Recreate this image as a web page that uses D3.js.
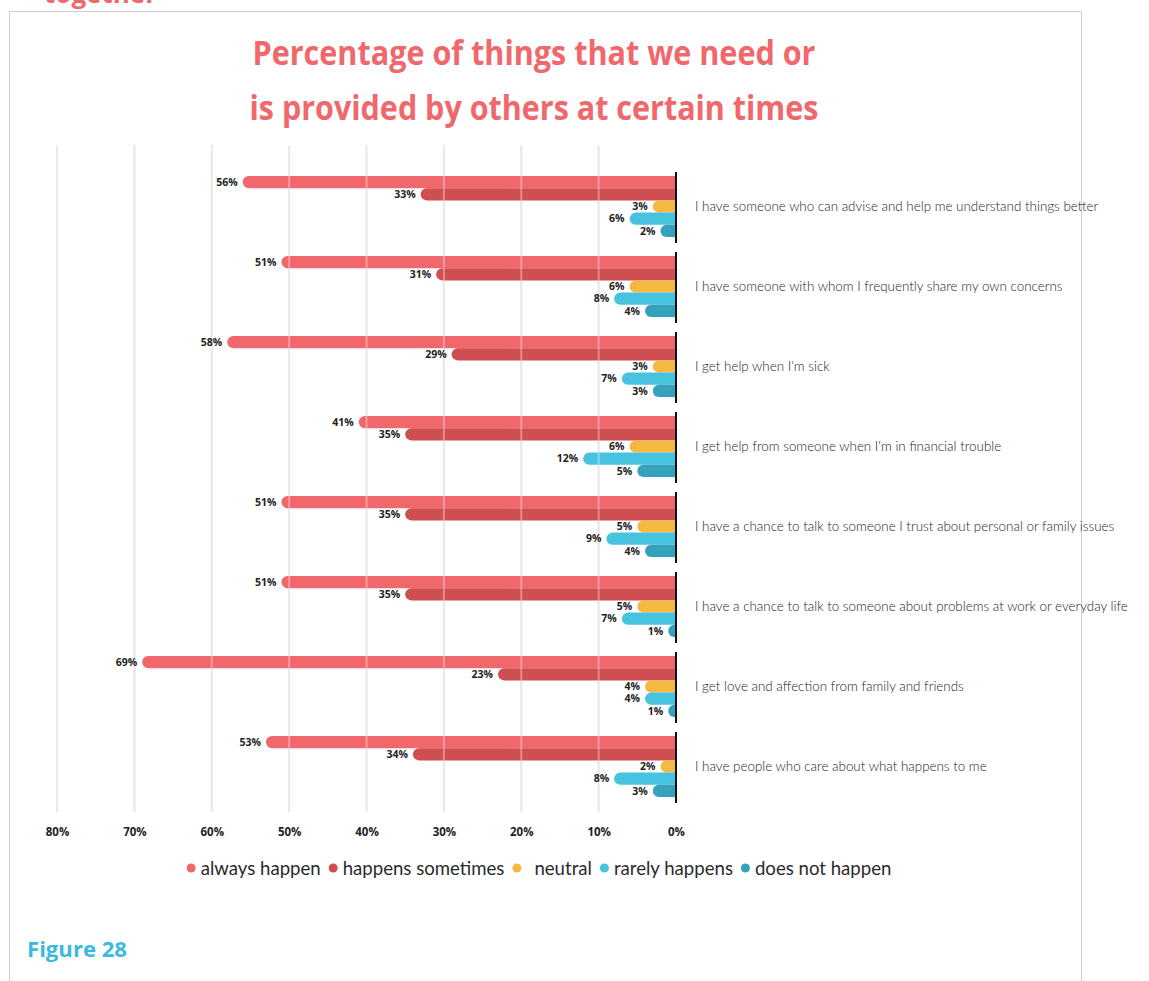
<!DOCTYPE html>
<html>
<head>
<meta charset="utf-8">
<script src="https://cdn.jsdelivr.net/npm/d3@7"></script>
<style>
  html, body { margin: 0; padding: 0; background: #fff; }
  svg { display: block; }
</style>
</head>
<body>
<svg id="chart" width="1149" height="981"></svg>
<script>
// Statements (one group of bars each)
const categories = [
  "I have someone who can advise and help me understand things better",
  "I have someone with whom I frequently share my own concerns",
  "I get help when I'm sick",
  "I get help from someone when I'm in financial trouble",
  "I have a chance to talk to someone I trust about personal or family issues",
  "I have a chance to talk to someone about problems at work or everyday life",
  "I get love and affection from family and friends",
  "I have people who care about what happens to me"
];

// Answer options, in drawing order within each group
const seriesNames = ["always happen", "happens sometimes", "neutral", "rarely happens", "does not happen"];
const seriesColors = ["#f0686b", "#cf4e51", "#f5b842", "#47c2df", "#34a2bd"];

// Percent of respondents per statement, one array per answer option
const alwaysHappen      = [56, 51, 58, 41, 51, 51, 69, 53];
const happensSometimes  = [33, 31, 29, 35, 35, 35, 23, 34];
const neutral           = [3, 6, 3, 6, 5, 5, 4, 2];
const rarelyHappens     = [6, 8, 7, 12, 9, 7, 4, 8];
const doesNotHappen     = [2, 4, 3, 5, 4, 1, 1, 3];
const seriesValues = [alwaysHappen, happensSometimes, neutral, rarelyHappens, doesNotHappen];

// Axis ticks (percent)
const tickValues = [80, 70, 60, 50, 40, 30, 20, 10, 0];

const svg = d3.select("#chart");
const salmon = "#f0686b";

// Outer frame of the page panel
svg.append("path")
  .attr("d", "M9.5,981 V11.5 H1081.5 V981")
  .attr("fill", "none")
  .attr("stroke", "#cfcfcf")
  .attr("stroke-width", 1);

// Heading from the previous section, running off the top edge
svg.append("text")
  .attr("x", 44).attr("y", 3)
  .attr("fill", salmon)
  .attr("font-family", "'Open Sans', sans-serif")
  .attr("font-weight", 700)
  .attr("font-size", 26)
  .text("together");

// Title
const title = svg.append("text")
  .attr("text-anchor", "middle")
  .attr("fill", "#f0686b")
  .attr("font-family", "'Open Sans', sans-serif")
  .attr("font-weight", 700)
  .attr("font-size", 34);
title.append("tspan").attr("x", 534).attr("y", 65)
  .attr("textLength", 563).attr("lengthAdjust", "spacingAndGlyphs")
  .text("Percentage of things that we need or");
title.append("tspan").attr("x", 534).attr("y", 120)
  .attr("textLength", 569).attr("lengthAdjust", "spacingAndGlyphs")
  .text("is provided by others at certain times");

// Scales
const x = d3.scaleLinear().domain([0, 80]).range([676, 57]);
const y = d3.scaleBand().domain(categories).range([176, 797]).paddingInner(0.2375).paddingOuter(0);
const ySub = d3.scaleBand().domain(seriesNames).range([0, y.bandwidth()]);

const gridTop = 145, gridBottom = 812;

// Gridlines under the bars
svg.append("g").selectAll("line")
  .data(tickValues.filter(d => d > 0))
  .join("line")
  .attr("x1", d => x(d)).attr("x2", d => x(d))
  .attr("y1", gridTop).attr("y2", gridBottom)
  .attr("stroke", "#dddddd")
  .attr("stroke-width", 2);

// Bars: flat at the zero line, rounded at the outer end
function barPath(v, top, h) {
  const x0 = x(0), x1 = x(v);
  const r = Math.min(h / 2, x0 - x1);
  return `M${x0},${top} L${x1 + r},${top} A${r},${r} 0 0 0 ${x1 + r},${top + h} L${x0},${top + h} Z`;
}

const rows = [];
categories.forEach((c, i) => {
  seriesNames.forEach((s, j) => {
    rows.push({ cat: c, series: s, color: seriesColors[j], value: seriesValues[j][i] });
  });
});

svg.append("g").selectAll("path.bar")
  .data(rows)
  .join("path")
  .attr("class", "bar")
  .attr("fill", d => d.color)
  .attr("d", d => barPath(d.value, y(d.cat) + ySub(d.series), ySub.bandwidth()));

// Light gridline traces over the bars
svg.append("g").selectAll("line")
  .data(tickValues.filter(d => d > 0))
  .join("line")
  .attr("x1", d => x(d)).attr("x2", d => x(d))
  .attr("y1", gridTop).attr("y2", gridBottom)
  .attr("stroke", "#ffffff")
  .attr("stroke-opacity", 0.35)
  .attr("stroke-width", 2);

// Zero line, one segment per group
svg.append("g").selectAll("line")
  .data(categories)
  .join("line")
  .attr("x1", x(0)).attr("x2", x(0))
  .attr("y1", d => y(d) - 4)
  .attr("y2", d => y(d) + y.bandwidth() + 6)
  .attr("stroke", "#111")
  .attr("stroke-width", 2);

// Value labels
svg.append("g").selectAll("text")
  .data(rows)
  .join("text")
  .attr("x", d => x(d.value) - 5)
  .attr("y", d => y(d.cat) + ySub(d.series) + ySub.bandwidth() / 2)
  .attr("dy", "0.36em")
  .attr("text-anchor", "end")
  .attr("fill", "#222")
  .attr("font-family", "'Open Sans', sans-serif")
  .attr("font-weight", 700)
  .attr("font-size", 10.5)
  .text(d => d.value + "%");

// Statement labels
svg.append("g").selectAll("text")
  .data(categories)
  .join("text")
  .attr("x", 695)
  .attr("y", d => y(d) + y.bandwidth() / 2)
  .attr("dy", "0.35em")
  .attr("fill", "#222")
  .attr("font-family", "Lato, sans-serif")
  .attr("font-weight", 300)
  .attr("font-size", 13.4)
  .text(d => d);

// Bottom axis
const axis = svg.append("g")
  .attr("transform", `translate(0,${825})`)
  .call(d3.axisBottom(x).tickValues(tickValues).tickSize(0).tickFormat(d => d + "%"));
axis.select(".domain").remove();
axis.selectAll("text")
  .attr("fill", "#222")
  .attr("font-family", "'Open Sans', sans-serif")
  .attr("font-weight", 700)
  .attr("font-size", 11.5);

// Legend
const legend = svg.append("g");
let lx = 0;
seriesNames.forEach((name, j) => {
  const g = legend.append("g");
  const pad = name === "neutral" ? 22 : 14;
  g.append("circle").attr("cx", 4.5).attr("cy", 0).attr("r", 4.5).attr("fill", seriesColors[j]);
  const t = g.append("text")
    .attr("x", pad)
    .attr("dy", "0.35em")
    .attr("fill", "#2a2a2a")
    .attr("font-family", "Lato, sans-serif")
    .attr("font-size", 18.6)
    .text(name);
  const w = pad + t.node().getComputedTextLength();
  g.attr("transform", `translate(${lx},0)`);
  lx += w + 8;
});
legend.attr("transform", `translate(${539 - (lx - 8) / 2},868)`);

// Figure caption
svg.append("text")
  .attr("x", 27).attr("y", 957)
  .attr("fill", "#3bb9de")
  .attr("font-family", "'Open Sans', sans-serif")
  .attr("font-weight", 700)
  .attr("font-size", 22)
  .attr("textLength", 100).attr("lengthAdjust", "spacingAndGlyphs")
  .text("Figure 28");
</script>
</body>
</html>
